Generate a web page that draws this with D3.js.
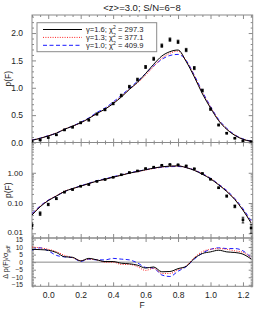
<!DOCTYPE html>
<html>
<head>
<meta charset="utf-8">
<script src="https://cdn.jsdelivr.net/npm/d3@7"></script>
<style>
  body { margin: 0; background: #fff; }
  text { font-family: "Liberation Sans", "DejaVu Sans", sans-serif; fill: #222; }
</style>
</head>
<body>
<div id="chart"></div>
<script>
'use strict';

// data --------------------------------------------
const fluxBins = [-0.1, -0.05, 0.0, 0.05, 0.1, 0.15, 0.2, 0.25, 0.3, 0.35, 0.4, 0.45, 0.5, 0.55,
                  0.6, 0.65, 0.7, 0.75, 0.8, 0.85, 0.9, 0.95, 1.0, 1.05, 1.1, 1.15, 1.2, 1.25];
const pdfObs = [0.018, 0.045, 0.09, 0.14, 0.23, 0.28, 0.36, 0.41, 0.52, 0.60, 0.71, 0.86, 1.02, 1.15,
                1.38, 1.53, 1.77, 1.88, 1.84, 1.69, 1.36, 0.95, 0.61, 0.32, 0.17, 0.078, 0.028, 0.015];
const pdfErr = [0.004, 0.006, 0.008, 0.010, 0.012, 0.013, 0.015, 0.016, 0.018, 0.020, 0.020, 0.022, 0.024, 0.025,
                0.027, 0.028, 0.030, 0.030, 0.030, 0.030, 0.028, 0.025, 0.020, 0.015, 0.012, 0.008, 0.006, 0.005];

const pdfG16 = [0.040, 0.075, 0.12, 0.17, 0.24, 0.30, 0.36, 0.44, 0.53, 0.61, 0.71, 0.83, 0.97, 1.10,
                1.26, 1.43, 1.58, 1.66, 1.69, 1.48, 1.20, 0.89, 0.63, 0.40, 0.24, 0.13, 0.058, 0.022];
const pdfG13 = [0.042, 0.078, 0.123, 0.175, 0.245, 0.30, 0.36, 0.44, 0.53, 0.61, 0.72, 0.84, 0.97, 1.09,
                1.23, 1.39, 1.54, 1.63, 1.67, 1.49, 1.22, 0.91, 0.65, 0.41, 0.25, 0.135, 0.060, 0.023];
const pdfG10 = [0.045, 0.080, 0.125, 0.17, 0.24, 0.30, 0.37, 0.45, 0.55, 0.63, 0.74, 0.86, 0.99, 1.12,
                1.26, 1.40, 1.52, 1.59, 1.61, 1.50, 1.23, 0.93, 0.66, 0.42, 0.26, 0.14, 0.065, 0.026];

const resG16 = [8.5, 8.3, 7.9, 6.4, 3.6, 3.2, 0.8, 2.5, 1.5, 0.4, 0.4, -0.7, -1.1, -2.0,
                -3.9, -3.2, -6.4, -6.2, -4.3, -2.8, 2.5, 5.7, 6.8, 7.9, 6.8, 6.4, 5.3, 2.1];
const resG13 = [10, 9.5, 8.5, 7.0, 4.5, 3.0, 1.0, 2.0, 1.5, 0.0, 0.0, -1.5, -1.5, -3.0,
                -5.5, -4.0, -7.5, -7.5, -5.0, -2.5, 3.0, 7.0, 8.5, 9.0, 8.5, 7.5, 6.5, 3.0];
const resG10 = [8.0, 9.5, 7.5, 4.5, 3.5, 3.0, 0.5, 2.0, 1.5, 1.5, 2.5, 2.0, 1.5, -0.5,
                -3.5, -4.0, -8.5, -9.5, -6.0, -3.0, 2.0, 6.0, 8.5, 9.5, 9.0, 9.0, 7.5, 3.0];

const legendLabels = [['1.6', '297.3'], ['1.3', '377.1'], ['1.0', '409.9']];
const xTicks   = [0.0, 0.2, 0.4, 0.6, 0.8, 1.0, 1.2];
const linTicks = [0.0, 0.5, 1.0, 1.5, 2.0];
const logTicks = [0.01, 0.1, 1.0];
const resTicks = [-15, -10, -5, 0, 5, 10, 15];

// layout ---------------------
const width = 266, height = 318;
const left = 32, right = 252.7;
const axisColor = '#8a8a8a';
const styles = [
  { color: '#000', dash: null },
  { color: '#ff2020', dash: '1,1.4' },
  { color: '#1a1aff', dash: '4,2.5' }
];

const svg = d3.select('#chart').append('svg')
    .attr('width', width)
    .attr('height', height);

const x = d3.scaleLinear().domain([-0.1, 1.26]).range([left, right]);
const yTop = d3.scaleLinear().domain([0, 2.33]).range([142.5, 15]);
const yLog = d3.scaleLog().domain([0.007, 10]).range([238, 142.5]);
const yRes = d3.scaleLinear().domain([-16, 16]).range([286.3, 238]);

// clip paths per panel
function clipFor(id, y) {
  svg.append('clipPath').attr('id', id).append('rect')
     .attr('x', left).attr('y', y.range()[1])
     .attr('width', right - left).attr('height', y.range()[0] - y.range()[1]);
}
clipFor('cTop', yTop); clipFor('cLog', yLog); clipFor('cRes', yRes);

// axes with inward ticks on all sides ---------------------
function drawFrame(y, majors, minors, fmt, showX, fontSize) {
  const top = y.range()[1], bot = y.range()[0];
  const xMinor = d3.range(-0.1, 1.2601, 0.05).filter(v => xTicks.indexOf(+v.toFixed(2)) < 0);

  const g = svg.append('g');
  const add = (axis, tx, ty) => {
    const a = g.append('g').attr('transform', 'translate(' + tx + ',' + ty + ')').call(axis);
    a.select('.domain').remove();
    a.selectAll('line').attr('stroke', axisColor);
    return a;
  };

  // x: bottom + top
  add(d3.axisBottom(x).tickValues(xTicks).tickSize(-4).tickFormat(showX ? d3.format('.1f') : ''), 0, bot)
     .selectAll('text').attr('font-size', 8.5).attr('dy', '1.05em');
  add(d3.axisBottom(x).tickValues(xMinor).tickSize(-2).tickFormat(''), 0, bot);
  add(d3.axisTop(x).tickValues(xTicks).tickSize(-4).tickFormat(''), 0, top);
  add(d3.axisTop(x).tickValues(xMinor).tickSize(-2).tickFormat(''), 0, top);

  // y: left + right
  const lab = add(d3.axisLeft(y).tickValues(majors).tickSize(-4).tickPadding(9).tickFormat(fmt), left, 0);
  lab.selectAll('text').attr('font-size', fontSize);
  add(d3.axisLeft(y).tickValues(minors).tickSize(-2).tickFormat(''), left, 0);
  add(d3.axisRight(y).tickValues(majors).tickSize(-4).tickFormat(''), right, 0);
  add(d3.axisRight(y).tickValues(minors).tickSize(-2).tickFormat(''), right, 0);

  g.append('rect')
    .attr('x', left).attr('y', top)
    .attr('width', right - left).attr('height', bot - top)
    .attr('fill', 'none').attr('stroke', axisColor).attr('stroke-width', 1);
  return lab;
}

const linMinor = d3.range(0, 2.33, 0.1).filter(v => Math.abs(v * 2 - Math.round(v * 2)) > 0.01);
const logMinor = [];
[0.001, 0.01, 0.1, 1].forEach(d => d3.range(2, 10).forEach(m => {
  const v = d * m; if (v >= 0.007 && v <= 10) logMinor.push(v);
}));
const resMinor = d3.range(-16, 17, 1).filter(v => v % 5 !== 0);

drawFrame(yTop, linTicks, linMinor, d3.format('.1f'), false, 8.5);
drawFrame(yLog, logTicks, logMinor, d3.format('.2f'), false, 8)
    .selectAll('text').filter(d => d === 0.01).attr('dy', '0.1em');
drawFrame(yRes, resTicks, resMinor, d3.format('d'), true, 6.6);

// zero line in residual panel
svg.append('line')
    .attr('x1', left).attr('x2', right)
    .attr('y1', yRes(0)).attr('y2', yRes(0))
    .attr('stroke', axisColor).attr('stroke-width', 1);

// model curves ---------------------
function drawCurve(y, values, style, clip) {
  const line = d3.line()
      .x((d, i) => x(fluxBins[i]))
      .y(d => y(d))
      .curve(d3.curveMonotoneX);
  svg.append('path')
      .datum(values)
      .attr('clip-path', 'url(#' + clip + ')')
      .attr('d', line)
      .attr('fill', 'none')
      .attr('stroke', style.color)
      .attr('stroke-width', 1)
      .attr('stroke-dasharray', style.dash);
}

[pdfG10, pdfG13, pdfG16].forEach((v, k) => drawCurve(yTop, v, styles[2 - k], 'cTop'));
[pdfG10, pdfG13, pdfG16].forEach((v, k) => drawCurve(yLog, v, styles[2 - k], 'cLog'));
[resG10, resG13, resG16].forEach((v, k) => drawCurve(yRes, v, styles[2 - k], 'cRes'));

// data points with error bars ---------------------
function drawPoints(y, clip) {
  const g = svg.append('g').attr('clip-path', 'url(#' + clip + ')');
  const pts = g.selectAll('g').data(pdfObs).enter().append('g');
  pts.append('line')
      .attr('x1', (d, i) => x(fluxBins[i])).attr('x2', (d, i) => x(fluxBins[i]))
      .attr('y1', (d, i) => y(d + pdfErr[i])).attr('y2', (d, i) => y(d - pdfErr[i]))
      .attr('stroke', '#000').attr('stroke-width', 0.8);
  [1, -1].forEach(s => {
    pts.append('line')
        .attr('x1', (d, i) => x(fluxBins[i]) - 1.3).attr('x2', (d, i) => x(fluxBins[i]) + 1.3)
        .attr('y1', (d, i) => y(d + s * pdfErr[i])).attr('y2', (d, i) => y(d + s * pdfErr[i]))
        .attr('stroke', '#000').attr('stroke-width', 0.8);
  });
  pts.append('rect')
      .attr('x', (d, i) => x(fluxBins[i]) - 1.3)
      .attr('y', d => y(d) - 1.3)
      .attr('width', 2.6).attr('height', 2.6)
      .attr('fill', '#000');
}
drawPoints(yTop, 'cTop');
drawPoints(yLog, 'cLog');

// legend ---------------------
const legend = svg.append('g');
legend.append('rect')
    .attr('x', 37).attr('y', 22.7).attr('width', 119.7).attr('height', 29)
    .attr('fill', '#fff').attr('stroke', axisColor).attr('stroke-width', 1);
legendLabels.forEach((lab, k) => {
  const yy = 29.5 + k * 7.9;
  legend.append('line')
      .attr('x1', 43).attr('x2', 82).attr('y1', yy).attr('y2', yy)
      .attr('stroke', styles[k].color).attr('stroke-width', 1)
      .attr('stroke-dasharray', styles[k].dash);
  const t = legend.append('text')
      .attr('x', 86).attr('y', yy + 2.8)
      .attr('font-size', 7.6);
  t.append('tspan').text('\u03b3=' + lab[0] + '; \u03c7');
  t.append('tspan').attr('font-size', 5).attr('dy', -3).text('2');
  t.append('tspan').attr('dy', 3).text(' = ' + lab[1]);
});

// titles and labels ---------------------
svg.append('text')
    .attr('x', 142).attr('y', 10.5)
    .attr('text-anchor', 'middle')
    .attr('font-size', 9.5)
    .text('<z>=3.0; S/N=6\u22128');

svg.append('text')
    .attr('x', 142).attr('y', 308)
    .attr('text-anchor', 'middle')
    .attr('font-size', 8.5)
    .text('F');

[[yTop, 'p(F)'], [yLog, 'p(F)']].forEach(([y, s]) => {
  svg.append('text')
      .attr('transform', 'translate(11,' + (y.range()[0] + y.range()[1]) / 2 + ') rotate(-90)')
      .attr('text-anchor', 'middle')
      .attr('font-size', 8.5)
      .text(s);
});

const resLabel = svg.append('text')
    .attr('transform', 'translate(8,' + (yRes.range()[0] + yRes.range()[1]) / 2 + ') rotate(-90)')
    .attr('text-anchor', 'middle')
    .attr('font-size', 7.2);
resLabel.append('tspan').text('\u0394 p(F)/\u03c3');
resLabel.append('tspan').attr('font-size', 5).attr('dy', 2).text('pdf');
</script>
</body>
</html>
